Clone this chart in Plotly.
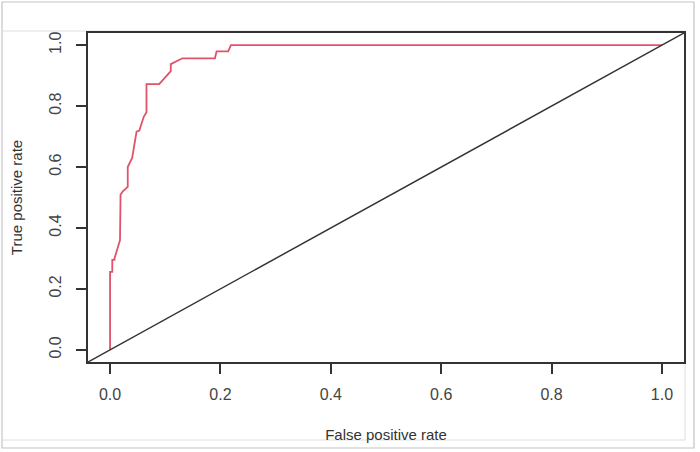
"""
ROC curve: true positive rate vs false positive rate, with the chance diagonal.
Rebuilt in Plotly to look like the base-R plot.
"""

import plotly.graph_objects as go

# ── Data ──────────────────────────────────────────────────────────────────

fpr = [0.000, 0.000, 0.004, 0.004, 0.008, 0.008, 0.013, 0.018, 0.019, 0.023,
       0.032, 0.032, 0.040, 0.048, 0.053, 0.057, 0.061, 0.066, 0.066, 0.089,
       0.110, 0.110, 0.131, 0.190, 0.193, 0.214, 0.219, 1.000]
tpr = [0.000, 0.256, 0.256, 0.295, 0.295, 0.300, 0.330, 0.360, 0.510, 0.520,
       0.535, 0.600, 0.630, 0.716, 0.720, 0.745, 0.765, 0.780, 0.872, 0.872,
       0.915, 0.938, 0.957, 0.957, 0.980, 0.980, 1.000, 1.000]

# chance line (abline(0, 1)) across the whole padded range
diag_x = [-0.04, 1.04]
diag_y = [-0.04, 1.04]

tick_vals = [0.0, 0.2, 0.4, 0.6, 0.8, 1.0]
tick_text = ["0.0", "0.2", "0.4", "0.6", "0.8", "1.0"]

RED = "#DF536B"
INK = "#333333"

PW, PH = 596, 329          # plot area in px
ML, MT = 88, 33            # left / top margins

# ── Figure ────────────────────────────────────────────────────────────────

fig = go.Figure()

fig.add_trace(go.Scatter(
    x=fpr, y=tpr, mode="lines",
    line=dict(color=RED, width=1.8),
    showlegend=False, hoverinfo="skip",
))
fig.add_trace(go.Scatter(
    x=diag_x, y=diag_y, mode="lines",
    line=dict(color=INK, width=1.5),
    showlegend=False, hoverinfo="skip",
))

axis_common = dict(
    tickvals=tick_vals, ticktext=tick_text,
    ticks="outside", ticklen=10, tickwidth=1.5, tickcolor=INK,
    showline=True, linecolor=INK, linewidth=2, mirror=True,
    showgrid=False, zeroline=False, automargin=False,
    tickfont=dict(size=16, color="#444444"),
    title_font=dict(size=15, color="#333333"),
)

fig.update_xaxes(
    range=[-0.04, 1.04], title_text="False positive rate",
    title_standoff=27, ticklabelstandoff=7, **axis_common,
)
fig.update_yaxes(
    range=[-0.04, 1.04], title_text="True positive rate",
    tickangle=-90, title_standoff=20, ticklabelstandoff=9, **axis_common,
)

# page frame lines from the screenshot (pixel -> paper coords)
def px_x(p):
    return (p - ML) / PW


def px_y(p):
    return (MT + PH - p) / PH


fig.add_shape(type="rect", xref="paper", yref="paper",
              x0=px_x(2), x1=px_x(694), y0=px_y(448), y1=px_y(2),
              line=dict(color="#c4c4c4", width=1.2), layer="below")
fig.add_shape(type="rect", xref="paper", yref="paper",
              x0=px_x(2), x1=px_x(685), y0=px_y(440), y1=px_y(31),
              line=dict(color="#dedede", width=1), layer="below")

fig.update_layout(
    width=700, height=452,
    margin=dict(l=ML, r=700 - ML - PW, t=MT, b=452 - MT - PH),
    paper_bgcolor="white", plot_bgcolor="white",
    font=dict(family="Liberation Sans, Arial, sans-serif"),
)

# drop the default body margin so the figure sits flush with the window
fig.write_html(
    "out.html",
    config={"displayModeBar": False},
    post_script="document.body.style.margin = '0';",
)
